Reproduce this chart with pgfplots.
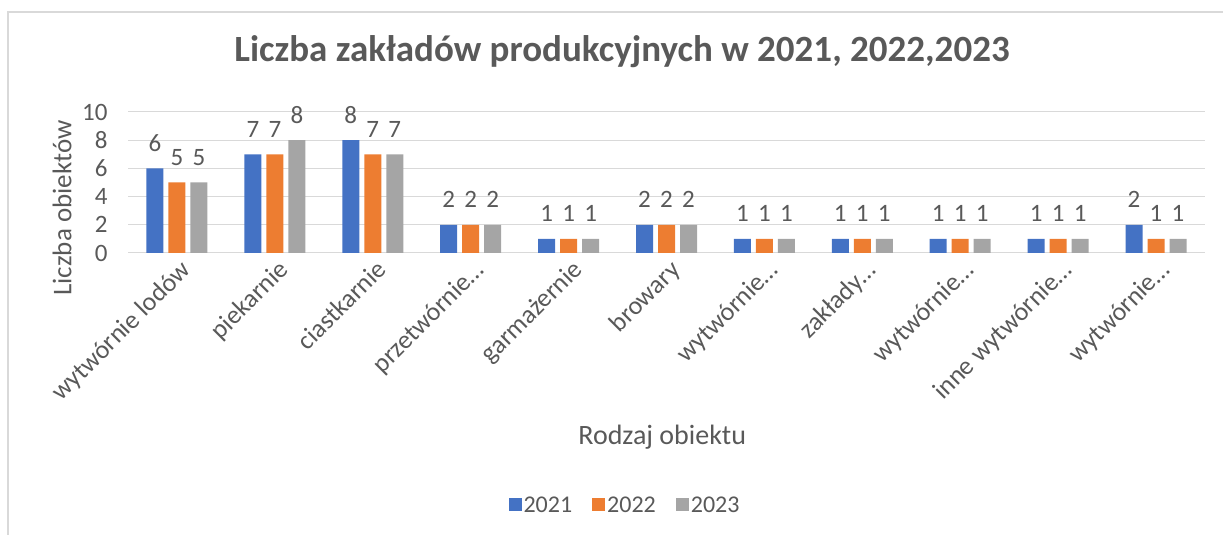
\documentclass[border=0pt]{standalone}
\usepackage{fontspec}
\setmainfont{Carlito}
\usepackage{pgfplots}
\pgfplotsset{compat=1.18}
\definecolor{cA}{HTML}{4472C4}
\definecolor{cB}{HTML}{ED7D31}
\definecolor{cC}{HTML}{A5A5A5}
\definecolor{gridc}{HTML}{D9D9D9}
\definecolor{textc}{HTML}{595959}
\begin{document}
\begin{tikzpicture}
\useasboundingbox (0,0) rectangle (1223bp,535bp);
\draw[color=gridc, line width=1.5bp] (8bp,0) -- (8bp,523bp) -- (1223bp,523bp);
\begin{axis}[
  at={(128bp,282bp)}, anchor=south west,
  scale only axis, width=1077bp, height=141bp,
  xmin=-0.5, xmax=10.5, ymin=0, ymax=10,
  ytick={0,2,...,10},
  xtick={0,...,10},
  xticklabels={wytwórnie lodów, piekarnie, ciastkarnie, przetwórnie…, garmażernie, browary, wytwórnie…, zakłady…, wytwórnie…, inne wytwórnie…, wytwórnie…},
  ybar=5bp, bar width=17bp,
  axis line style={draw=none},
  ymajorgrids, grid style={gridc, line width=1bp},
  major tick length=0,
  tick label style={color=textc},
  /pgf/number format/assume math mode=true,
  yticklabel style={xshift=-17bp, font=\fontsize{25bp}{29bp}\selectfont},
  xticklabel style={rotate=45, anchor=north east, yshift=-2bp, xshift=1bp, font=\fontsize{26bp}{30bp}\selectfont},
  nodes near coords,
  every node near coord/.append style={color=textc, font=\fontsize{25bp}{29bp}\selectfont, anchor=center, yshift=25bp},
  title={Liczba zakładów produkcyjnych w 2021, 2022,2023},
  title style={at={(axis description cs:0.4587,1.383)}, anchor=center, font=\bfseries\fontsize{37bp}{42bp}\selectfont, color=textc},
  ylabel={Liczba obiektów},
  ylabel style={at={(axis description cs:-0.0613,0.319)}, anchor=center, rotate=0, font=\fontsize{27bp}{31bp}\selectfont, color=textc},
  xlabel={Rodzaj obiektu},
  xlabel style={at={(axis description cs:0.496,-1.305)}, anchor=center, font=\fontsize{28bp}{32bp}\selectfont, color=textc},
  legend style={at={(axis description cs:0.4615,-1.787)}, anchor=center, draw=none, legend columns=3, font=\fontsize{24bp}{28bp}\selectfont, text=textc, /tikz/every even column/.append style={column sep=18bp}},
  legend image code/.code={\path[#1] (0bp,-6.5bp) rectangle (13bp,6.5bp);},
]
\addplot[fill=cA, draw=none] coordinates {(0,6) (1,7) (2,8) (3,2) (4,1) (5,2) (6,1) (7,1) (8,1) (9,1) (10,2)};
\addplot[fill=cB, draw=none] coordinates {(0,5) (1,7) (2,7) (3,2) (4,1) (5,2) (6,1) (7,1) (8,1) (9,1) (10,1)};
\addplot[fill=cC, draw=none] coordinates {(0,5) (1,8) (2,7) (3,2) (4,1) (5,2) (6,1) (7,1) (8,1) (9,1) (10,1)};
\legend{2021,2022,2023}
\end{axis}
\end{tikzpicture}
\end{document}
